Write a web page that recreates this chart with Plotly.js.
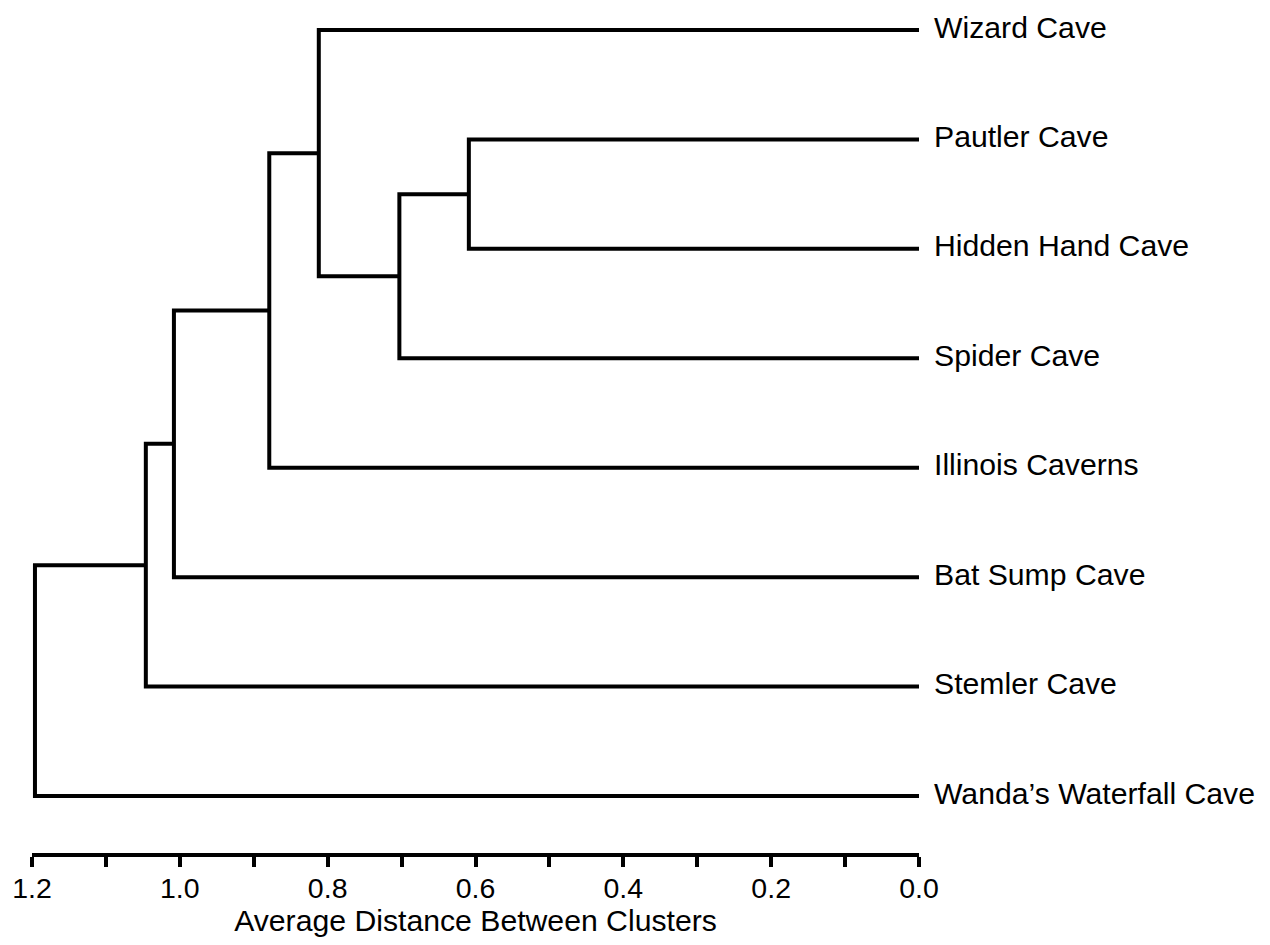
<!DOCTYPE html>
<html>
<head>
<meta charset="utf-8">
<script src="https://cdn.plot.ly/plotly-3.0.1.min.js"></script>
<style>
  html, body { margin: 0; padding: 0; background: #fff; }
  #chart { width: 1270px; height: 945px; }
</style>
</head>
<body>
<div id="chart"></div>
<script>
// Cave sites, top to bottom in dendrogram order
const leaves = [
  'Wizard Cave',
  'Pautler Cave',
  'Hidden Hand Cave',
  'Spider Cave',
  'Illinois Caverns',
  'Bat Sump Cave',
  'Stemler Cave',
  'Wanda\u2019s Waterfall Cave'
];

// Linkage: cluster n+i is formed by joining mergeA[i] and mergeB[i]
// (ids below n are single caves) at distance mergeHeight[i]
const mergeA = [1, 8, 0, 10, 11, 12, 13];
const mergeB = [2, 3, 9, 4, 5, 6, 7];
const mergeHeight = [0.609, 0.703, 0.812, 0.879, 1.008, 1.046, 1.196];

// Axis ticks: every 0.1, labelled every 0.2
const tickVals = [1.2, 1.1, 1.0, 0.9, 0.8, 0.7, 0.6, 0.5, 0.4, 0.3, 0.2, 0.1, 0.0];
const tickText = ['1.2', '', '1.0', '', '0.8', '', '0.6', '', '0.4', '', '0.2', '', '0.0'];

const n = leaves.length;
const pos = {};     // vertical position of each cluster
const height = {};  // merge distance of each cluster
for (let i = 0; i < n; i++) { pos[i] = i; height[i] = 0; }

const xs = [], ys = [];
mergeHeight.forEach((h, i) => {
  const a = mergeA[i], b = mergeB[i];
  xs.push(height[a], h, h, height[b], null);
  ys.push(pos[a], pos[a], pos[b], pos[b], null);
  pos[n + i] = (pos[a] + pos[b]) / 2;
  height[n + i] = h;
});

const font = 'Liberation Sans, Arial, Helvetica, sans-serif';

const trace = {
  type: 'scatter',
  mode: 'lines',
  x: xs,
  y: ys,
  line: { color: '#000', width: 4, shape: 'linear' },
  hoverinfo: 'skip',
  connectgaps: false,
  showlegend: false
};

const layout = {
  width: 1270,
  height: 945,
  paper_bgcolor: '#fff',
  plot_bgcolor: '#fff',
  margin: { l: 32, r: 351, t: 3, b: 92 },
  font: { family: font, color: '#000', size: 30 },
  xaxis: {
    range: [1.2, 0],
    tickmode: 'array',
    tickvals: tickVals,
    ticktext: tickText,
    ticks: 'outside',
    ticklen: 10,
    tickwidth: 4,
    tickcolor: '#000',
    ticklabelstandoff: -3,
    showline: true,
    linecolor: '#000',
    linewidth: 4,
    showgrid: false,
    zeroline: false,
    tickfont: { family: font, size: 28.5, color: '#000' },
    title: {
      text: 'Average Distance Between Clusters',
      font: { family: font, size: 30.2, color: '#000' },
      standoff: 7
    }
  },
  yaxis: {
    range: [7.521, -0.247],
    side: 'right',
    tickmode: 'array',
    tickvals: leaves.map((_, i) => i),
    ticktext: leaves,
    ticks: '',
    ticklabelstandoff: 14,
    ticklabelshift: 3,
    showline: false,
    showgrid: false,
    zeroline: false,
    tickfont: { family: font, size: 30.2, color: '#000' }
  }
};

Plotly.newPlot('chart', [trace], layout, { displayModeBar: false, staticPlot: true });
</script>
</body>
</html>
